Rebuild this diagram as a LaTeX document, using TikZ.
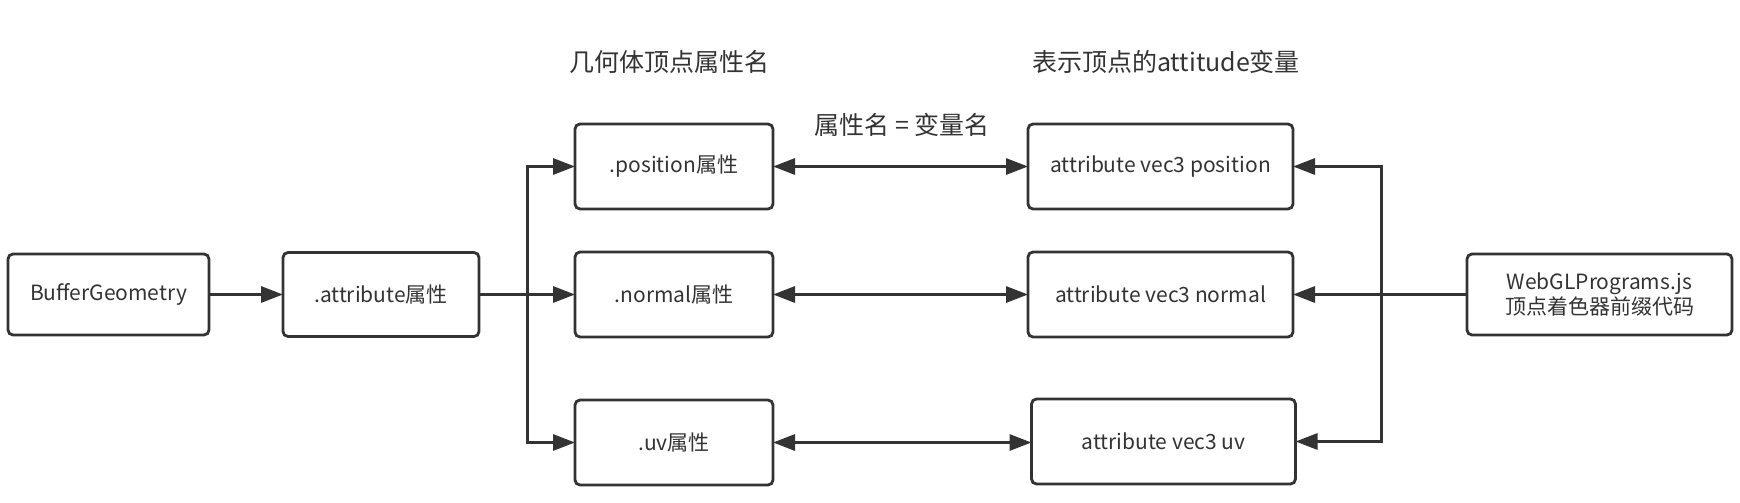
\documentclass[tikz,border=0pt]{standalone}
\usepackage{fontspec}
\setmainfont{Noto Sans CJK SC}
\usepackage{tikz}
\usetikzlibrary{positioning,arrows.meta}
\definecolor{linegray}{HTML}{333333}
\newcommand\flowfont{\fontsize{21}{25}\selectfont}
\newcommand\capfont{\fontsize{25}{29}\selectfont}
\tikzset{
  flow box/.style={draw=linegray, line width=2.8pt, rounded corners=5pt, align=center, text=linegray, font=\flowfont, inner sep=0pt, outer sep=0pt, minimum height=84pt},
  geo box/.style={flow box, minimum width=198pt, minimum height=85pt},
  var box/.style={flow box, minimum width=265pt, minimum height=85pt},
  caption/.style={text=linegray, font=\capfont, inner sep=0pt},
  link/.style={draw=linegray, line width=3pt, -{Triangle[length=22pt,width=16pt]}},
  two way link/.style={link, {Triangle[length=22pt,width=16pt]}-{Triangle[length=22pt,width=16pt]}},
}

\begin{document}
\begin{tikzpicture}[x=1pt,y=1pt]
\useasboundingbox (0,0) rectangle (1740,-503);
% the nodes
\node [flow box, minimum width=201pt, minimum height=81pt] (buf) at (108.5,-294.5) {BufferGeometry};
\node [flow box, minimum width=196pt, right=74pt of buf] (attr) {.attribute属性};
\node [geo box, right=96pt of attr] (nor) {.normal属性};
\node [geo box, above=43pt of nor] (pos) {.position属性};
\node [geo box, below=63pt of nor] (uv) {.uv属性};
\node [var box, right=255pt of nor] (vnor) {attribute vec3 normal};
\node [var box, above=43pt of vnor] (vpos) {attribute vec3 position};
\node [var box, minimum width=264pt, below=62pt of vnor, xshift=3pt] (vuv) {attribute vec3 uv};
\node [flow box, minimum width=265pt, minimum height=81pt, right=174pt of vnor] (gl) {WebGLPrograms.js\\顶点着色器前缀代码};
% captions
\node [caption] (capgeo) at (669,-62) {几何体顶点属性名};
\node [caption] (capvar) at (1166,-62) {表示顶点的attitude变量};
\node [caption] (capeq) at (902,-125) {属性名 = 变量名};
\coordinate (lsplit) at (527,-294);
\coordinate (rsplit) at (1381,-294);
%drawings of vectors
\draw[link] (buf.east) -- (attr.west);
\draw[link] (attr.east) -- (nor.west);
\draw[link] (lsplit) |- (pos.west);
\draw[link] (lsplit) |- (uv.west);

\draw[two way link] (pos.east) -- (vpos.west);
\draw[two way link] (nor.east) -- (vnor.west);
\draw[two way link] (uv.east) -- (uv.east -| vuv.west);

\draw[link] (gl.west) -- (vnor.east);
\draw[link] (rsplit) |- (vpos.east);
\draw[link] (rsplit) |- (vuv.east);
\end{tikzpicture}
\end{document}
